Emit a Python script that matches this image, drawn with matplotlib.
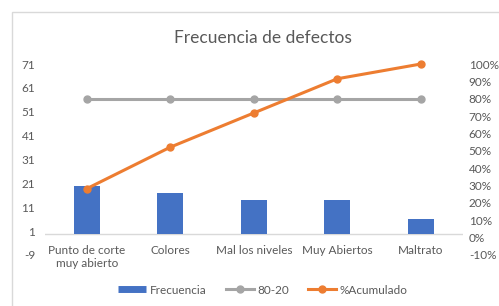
import matplotlib
matplotlib.use("Agg")
import matplotlib.pyplot as plt
from matplotlib.lines import Line2D
from matplotlib.patches import Rectangle
from matplotlib.ticker import PercentFormatter

# DATOS
categorias = ["Punto de corte\nmuy abierto", "Colores", "Mal los niveles",
              "Muy Abiertos", "Maltrato"]
frecuencia = [20, 17, 14, 14, 6]
acumulado = [0.282, 0.521, 0.718, 0.915, 1.0]
linea_80_20 = [0.8, 0.8, 0.8, 0.8, 0.8]
ticks_izq = [-9, 1, 11, 21, 31, 41, 51, 61, 71]
ticks_der = [-0.1, 0.0, 0.1, 0.2, 0.3, 0.4, 0.5, 0.6, 0.7, 0.8, 0.9, 1.0]

AZUL = "#4472C4"
GRIS = "#A5A5A5"
NARANJA = "#ED7D31"
TEXTO = "#595959"

plt.rcParams["font.family"] = ["Lato", "DejaVu Sans"]
plt.rcParams["axes.unicode_minus"] = False

fig = plt.figure(figsize=(4.99, 3.06), dpi=100, facecolor="white")
ax = fig.add_axes([0.0902, 0.1667, 0.8367, 0.6241])
ax2 = ax.twinx()

# borde del área del gráfico (recortado a la derecha y abajo)
fig.patches.append(Rectangle((12 / 499, -0.05), 1.1, 1 - 12 / 306 + 0.05,
                             transform=fig.transFigure, fill=False,
                             edgecolor="#D9D9D9", linewidth=1))

x = list(range(len(categorias)))
ax.bar(x, frecuencia, width=0.31, color=AZUL, zorder=2)
ax.axhline(0, color="#D9D9D9", linewidth=1, zorder=1)

ax2.plot(x, linea_80_20, color=GRIS, linewidth=2.2, marker="o", markersize=5,
         zorder=3, clip_on=False)
ax2.plot(x, acumulado, color=NARANJA, linewidth=2.2, marker="o", markersize=5,
         zorder=4, clip_on=False)

ax.set_xlim(-0.5, len(categorias) - 0.5)
ax.set_ylim(-9, 71)
ax.set_yticks(ticks_izq)
ax2.set_ylim(-0.1, 1.0)
ax2.set_yticks(ticks_der)
ax2.yaxis.set_major_formatter(PercentFormatter(1.0, decimals=0))

for a in (ax, ax2):
    for s in a.spines.values():
        s.set_visible(False)
    a.tick_params(length=0, labelsize=8.5, labelcolor=TEXTO)
ax.tick_params(axis="y", pad=7)
ax2.tick_params(axis="y", pad=4.5)
ax.set_xticks([])

# etiquetas de categoría bajo la línea del eje
for i, c in enumerate(categorias):
    ax.annotate(c, (i, 0), xytext=(0, -8), textcoords="offset points",
                ha="center", va="top", fontsize=8.5, color=TEXTO,
                linespacing=1.3)

fig.text(0.527, 0.875, "Frecuencia de defectos", ha="center", va="center",
         fontsize=12.5, color=TEXTO)

handles = [
    Line2D([], [], color=AZUL, linewidth=5, solid_capstyle="butt"),
    Line2D([], [], color=GRIS, linewidth=2.2, marker="o", markersize=5),
    Line2D([], [], color=NARANJA, linewidth=2.2, marker="o", markersize=5),
]
fig.legend(handles, ["Frecuencia", "80-20", "%Acumulado"], loc="center",
           bbox_to_anchor=(0.527, 0.052), ncol=3, frameon=False,
           fontsize=8.5, labelcolor=TEXTO, handlelength=2.4,
           handletextpad=0.3, columnspacing=1.6)

fig.savefig("out.png", dpi=100, facecolor="white")
